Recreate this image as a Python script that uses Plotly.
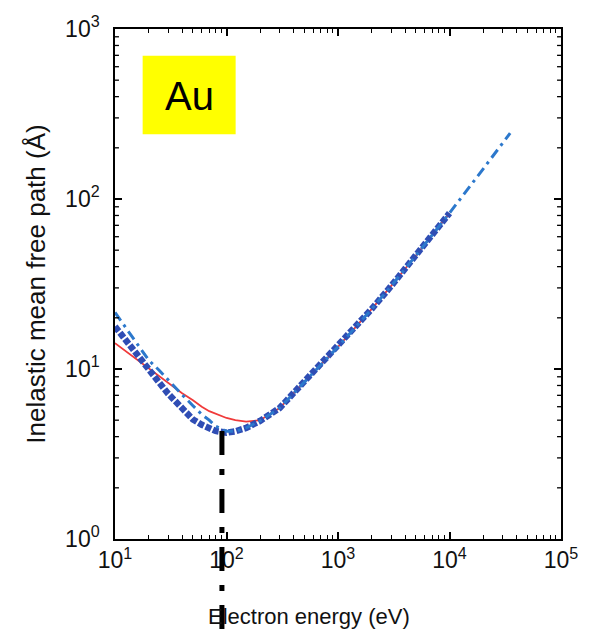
import plotly.graph_objects as go

# Electron energy grid (eV)
energy_low = [10, 12, 15, 20, 25, 30, 40, 50, 60, 70, 80, 100, 120, 150, 200,
              300, 500, 700, 1000, 2000, 3000, 5000, 7000, 10000]
energy_ext = energy_low + [20000, 35000]

# Inelastic mean free path of Au (Å) for three models
imfp_red = [14.2, 13.0, 11.6, 10.1, 9.0, 8.3, 7.2, 6.55, 6.0, 5.65, 5.45, 5.15,
            5.0, 4.9, 5.0, 5.9, 8.4, 10.6, 13.5, 22.5, 30.8, 46.5, 61.2, 82.6]
imfp_dotted = [17.8, 15.2, 12.5, 9.8, 8.3, 7.15, 5.8, 5.05, 4.7, 4.45, 4.32, 4.22,
               4.3, 4.5, 4.95, 5.9, 8.4, 10.6, 13.5, 22.5, 30.8, 46.5, 61.2, 82.6]
imfp_dashdot = [21.5, 18.2, 14.8, 11.3, 9.8, 8.6, 7.06, 6.08, 5.4, 5.0, 4.6, 4.3,
                4.3, 4.5, 4.95, 5.9, 8.4, 10.6, 13.5, 22.5, 30.8, 46.5, 61.2, 82.6,
                150.0, 244.0]

marker_energy = 91  # eV, position of the vertical guide line

x_tickvals = [10, 100, 1000, 10000, 100000]
x_ticktext = ["10<sup>1</sup>", "10<sup>2</sup>", "10<sup>3</sup>", "10<sup>4</sup>", "10<sup>5</sup>"]
y_tickvals = [1, 10, 100, 1000]
y_ticktext = ["10<sup>0</sup>", "10<sup>1</sup>", "10<sup>2</sup>", "10<sup>3</sup>"]
x_minor = [m * 10 ** d for d in range(1, 5) for m in range(2, 10)]
y_minor = [m * 10 ** d for d in range(0, 3) for m in range(2, 10)]

fig = go.Figure()
fig.add_trace(go.Scatter(x=energy_low, y=imfp_red, mode="lines",
                         line=dict(color="#f03a3a", width=1.8), showlegend=False))
fig.add_trace(go.Scatter(x=energy_low, y=imfp_dotted, mode="lines",
                         line=dict(color="#2f4db4", width=6.5, dash="6px,2px"),
                         showlegend=False))
fig.add_trace(go.Scatter(x=energy_ext, y=imfp_dashdot, mode="lines",
                         line=dict(color="#2c78cc", width=3, dash="10px,5px,3px,5px"),
                         showlegend=False))

font_family = "Liberation Sans, Arial, sans-serif"
axis_font = dict(family=font_family, size=23, color="#111")

fig.update_xaxes(type="log", range=[1, 5], tickmode="array",
                 tickvals=x_tickvals, ticktext=x_ticktext,
                 ticks="inside", ticklen=7, tickwidth=1.5, tickcolor="black",
                 showline=True, linecolor="black", linewidth=1.5, mirror="allticks",
                 showgrid=False, zeroline=False, tickfont=axis_font,
                 minor=dict(tickmode="array", tickvals=x_minor, ticks="inside",
                            ticklen=4, tickwidth=1.3, tickcolor="black"))
fig.update_yaxes(type="log", range=[0, 3], tickmode="array",
                 tickvals=y_tickvals, ticktext=y_ticktext,
                 ticks="inside", ticklen=7, tickwidth=1.5, tickcolor="black",
                 showline=True, linecolor="black", linewidth=1.5, mirror="allticks",
                 showgrid=False, zeroline=False, tickfont=axis_font,
                 ticklabelstandoff=9,
                 title=dict(text="Inelastic mean free path (Å)", standoff=12,
                            font=dict(family=font_family, size=26, color="#111")))

# Minor ticks on the left and right frame edges of the y axis
tick_frac = 4 / 451
for v in y_minor:
    for x0, x1 in ((0, tick_frac), (1 - tick_frac, 1)):
        fig.add_shape(type="line", xref="paper", yref="y", x0=x0, x1=x1, y0=v, y1=v,
                      line=dict(color="black", width=1.3))

# x-axis title
fig.add_annotation(x=0.435, y=-0.152, xref="paper", yref="paper",
                   text="Electron energy (eV)", showarrow=False,
                   xanchor="center", yanchor="middle",
                   font=dict(family=font_family, size=22, color="#111"))

# Vertical dash-dot guide at the IMFP minimum, running below the axis
fig.add_shape(type="line", xref="x", yref="paper",
              x0=marker_energy, x1=marker_energy, y0=0.212, y1=-0.19,
              line=dict(color="black", width=5, dash="24px,14px,6px,14px"))

# Element label box
fig.add_shape(type="rect", xref="paper", yref="paper",
              x0=0.062, x1=0.2705, y0=0.7938, y1=0.9475,
              fillcolor="#ffff00", line=dict(width=0), layer="above")
fig.add_annotation(x=0.166, y=0.868, xref="paper", yref="paper", text="Au",
                   showarrow=False, xanchor="center", yanchor="middle",
                   font=dict(family=font_family, size=40, color="black"))

fig.update_layout(width=590, height=635, margin=dict(l=115, r=24, t=25, b=96),
                  plot_bgcolor="white", paper_bgcolor="white")

fig.write_html("out.html")
